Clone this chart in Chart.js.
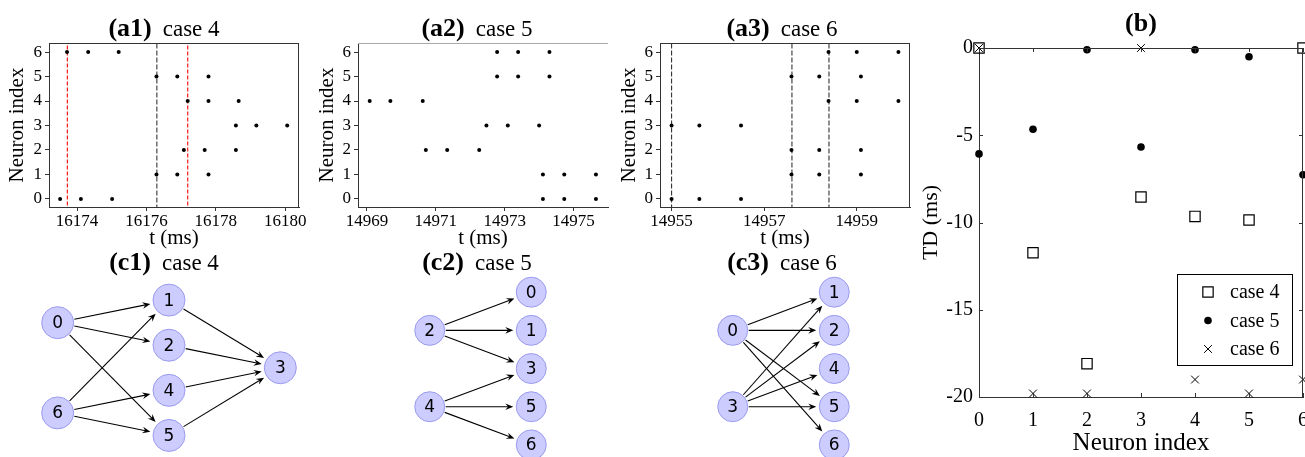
<!DOCTYPE html>
<html>
<head>
<meta charset="utf-8">
<script src="https://cdn.jsdelivr.net/npm/chart.js@4.4.0/dist/chart.umd.min.js"></script>
<style>
  body { margin: 0; width: 1305px; height: 457px; overflow: hidden; background: #fff; position: relative;
         font-family: "Liberation Serif", "Times New Roman", serif; }
  canvas { position: absolute; }
  .ttl { position: absolute; transform: translateX(-50%); white-space: nowrap; font-size: 23px; line-height: 26px; color: #000; }
  .ttl b { font-size: 26px; }
  .ttl span { margin-left: 11px; }
</style>
</head>
<body>
<canvas id="a1" width="310" height="251" style="left:0;top:0"></canvas>
<canvas id="a2" width="302" height="251" style="left:310px;top:0"></canvas>
<canvas id="a3" width="300" height="251" style="left:612px;top:0"></canvas>
<canvas id="b" width="405" height="458" style="left:915px;top:0"></canvas>
<canvas id="c1" width="334" height="203" style="left:2px;top:255px"></canvas>
<canvas id="c2" width="203" height="210" style="left:379px;top:254px"></canvas>
<canvas id="c3" width="203" height="210" style="left:682px;top:254px"></canvas>

<div class="ttl" style="left:164px;top:15px"><b>(a1)</b><span>case 4</span></div>
<div class="ttl" style="left:477px;top:15px"><b>(a2)</b><span>case 5</span></div>
<div class="ttl" style="left:782px;top:15px"><b>(a3)</b><span>case 6</span></div>
<div class="ttl" style="left:1141px;top:10px"><b>(b)</b></div>
<div class="ttl" style="left:164px;top:249px"><b>(c1)</b><span>case 4</span></div>
<div class="ttl" style="left:477px;top:249px"><b>(c2)</b><span>case 5</span></div>
<div class="ttl" style="left:782px;top:249px"><b>(c3)</b><span>case 6</span></div>

<script>
// spike times (ms) for neurons 0..6
const neuronIdx = [0, 1, 2, 3, 4, 5, 6];

const a1Spikes = [
    [16173.51, 16174.11, 16175.01],
    [16176.29, 16176.89, 16177.79],
    [16177.08, 16177.68, 16178.58],
    [16178.58, 16179.17, 16180.06],
    [16177.19, 16177.79, 16178.66],
    [16176.29, 16176.89, 16177.79],
    [16173.71, 16174.32, 16175.20]
];
const a1Ticks = [16174, 16176, 16178, 16180];
const a1RedLines = [16173.72, 16177.19];
const a1GrayLines = [16176.30];

const a2Spikes = [
    [14974.11, 14974.73, 14975.65],
    [14974.11, 14974.73, 14975.65],
    [14970.71, 14971.33, 14972.26],
    [14972.47, 14973.09, 14974.00],
    [14969.08, 14969.68, 14970.62],
    [14972.78, 14973.39, 14974.30],
    [14972.78, 14973.39, 14974.30]
];
const a2Ticks = [14969, 14971, 14973, 14975];

const a3Spikes = [
    [14955.00, 14955.60, 14956.50],
    [14957.59, 14958.19, 14959.09],
    [14957.59, 14958.19, 14959.09],
    [14955.00, 14955.60, 14956.50],
    [14958.39, 14959.00, 14959.90],
    [14957.59, 14958.19, 14959.09],
    [14958.39, 14959.00, 14959.90]
];
const a3Ticks = [14955, 14957, 14959];
const a3Lines = [14955.0, 14957.6, 14958.4];

// (b) TD per neuron index
const bNeurons = [0, 1, 2, 3, 4, 5, 6];
const tdCase4 = [0, -11.73, -18.09, -8.54, -9.65, -9.86, 0];
const tdCase5 = [-6.07, -4.66, -0.10, -5.67, -0.10, -0.50, -7.26];
const tdCase6 = [0, -19.8, -19.8, 0, -19.0, -19.8, -19.0];
const bYTicks = [0, -5, -10, -15, -20];

// (c) networks: node id, column, row, edges
const c1Nodes = [0, 6, 1, 2, 4, 5, 3];
const c1Cols = [0, 0, 1, 1, 1, 1, 2];
const c1Rows = [0.5, 2.5, 0, 1, 2, 3, 1.5];
const c1Edges = [[0, 1], [0, 2], [0, 5], [6, 1], [6, 4], [6, 5], [1, 3], [2, 3], [4, 3], [5, 3]];

const c2Nodes = [2, 4, 0, 1, 3, 5, 6];
const c2Cols = [0, 0, 1, 1, 1, 1, 1];
const c2Rows = [1, 3, 0, 1, 2, 3, 4];
const c2Edges = [[2, 0], [2, 1], [2, 3], [4, 3], [4, 5], [4, 6]];

const c3Nodes = [0, 3, 1, 2, 4, 5, 6];
const c3Cols = [0, 0, 1, 1, 1, 1, 1];
const c3Rows = [1, 3, 0, 1, 2, 3, 4];
const c3Edges = [[0, 1], [0, 2], [0, 5], [0, 6], [3, 1], [3, 2], [3, 4], [3, 5]];

const SERIF = '"Liberation Serif", "Times New Roman", serif';
Chart.defaults.font.family = SERIF;
Chart.defaults.color = '#000';

// top / right frame lines
const spinesPlugin = {
    id: 'spines',
    afterDraw(chart, args, opts) {
        const { ctx, chartArea: a } = chart;
        ctx.save();
        ctx.lineWidth = 1;
        if (opts.top) {
            ctx.strokeStyle = opts.top;
            ctx.beginPath(); ctx.moveTo(a.left, a.top + 0.5); ctx.lineTo(a.right, a.top + 0.5); ctx.stroke();
        }
        if (opts.right) {
            ctx.strokeStyle = opts.right;
            ctx.beginPath(); ctx.moveTo(a.right - 0.5, a.top); ctx.lineTo(a.right - 0.5, a.bottom); ctx.stroke();
        }
        ctx.restore();
    }
};

function raster(id, spikes, xmin, xmax, xticks, lines, axisW, padR, spines) {
    const dots = spikes.flatMap((ts, n) => ts.map(t => ({ x: t, y: neuronIdx[n] })));
    const datasets = [{
        data: dots, pointRadius: 2, pointBackgroundColor: '#000', pointBorderWidth: 0
    }];
    lines.forEach(l => datasets.push({
        type: 'line', data: [{ x: l.t, y: -1 }, { x: l.t, y: 7 }],
        borderColor: l.color, borderWidth: l.w, borderDash: l.dash, pointRadius: 0
    }));
    new Chart(document.getElementById(id), {
        type: 'scatter',
        data: { datasets },
        options: {
            responsive: false, animation: false, events: [],
            layout: { autoPadding: false, padding: { top: 43, right: padR, left: 0, bottom: 0 } },
            plugins: { legend: { display: false }, tooltip: { enabled: false }, spines },
            scales: {
                x: {
                    type: 'linear', min: xmin, max: xmax,
                    afterBuildTicks: s => { s.ticks = xticks.map(v => ({ value: v })); },
                    afterFit: s => { s.height = 44; },
                    grid: { drawOnChartArea: false, drawTicks: true, tickLength: 4, color: '#333' },
                    border: { color: '#333', width: 1 },
                    ticks: { font: { size: 17 }, padding: 0, maxRotation: 0, callback: v => String(v) },
                    title: { display: true, text: 't (ms)', font: { size: 21 }, padding: { top: 0, bottom: 0 } }
                },
                y: {
                    min: -0.33, max: 6.37,
                    afterBuildTicks: s => { s.ticks = neuronIdx.map(v => ({ value: v })); },
                    afterFit: s => { s.width = axisW; },
                    grid: { drawOnChartArea: false, drawTicks: true, tickLength: 4, color: '#333' },
                    border: { color: '#333', width: 1 },
                    ticks: { font: { size: 17 }, padding: 3, callback: v => String(v) },
                    title: { display: true, text: 'Neuron index', font: { size: 21 }, padding: { top: 5, bottom: 0 } }
                }
            }
        },
        plugins: [spinesPlugin]
    });
}

raster('a1', a1Spikes, 16173.19, 16180.40, a1Ticks,
    a1RedLines.map(t => ({ t, color: '#ff1a1a', dash: [4, 2], w: 1.2 }))
        .concat(a1GrayLines.map(t => ({ t, color: '#555', dash: [5, 2], w: 1.3 }))),
    49, 11, { top: '#333', right: '#333' });

raster('a2', a2Spikes, 14968.74, 14976.0, a2Ticks, [], 48, 4, { top: '#aaa' });

raster('a3', a3Spikes, 14954.75, 14960.15, a3Ticks,
    a3Lines.map(t => ({ t, color: '#333', dash: [5, 2], w: 1.1 })),
    48, 2, { top: '#333', right: '#333' });

// (b) inward ticks + box + legend
const boxPlugin = {
    id: 'box',
    afterDraw(chart) {
        const { ctx, chartArea: a, scales } = chart;
        ctx.save();
        ctx.strokeStyle = '#333';
        ctx.lineWidth = 1;
        ctx.beginPath();
        ctx.moveTo(a.left, a.top + 0.5); ctx.lineTo(a.right, a.top + 0.5);
        ctx.moveTo(a.right - 0.5, a.top); ctx.lineTo(a.right - 0.5, a.bottom);
        scales.x.ticks.forEach(t => {
            const x = Math.round(scales.x.getPixelForValue(t.value)) + 0.5;
            ctx.moveTo(x, a.bottom); ctx.lineTo(x, a.bottom - 4);
            ctx.moveTo(x, a.top); ctx.lineTo(x, a.top + 4);
        });
        scales.y.ticks.forEach(t => {
            const y = Math.round(scales.y.getPixelForValue(t.value)) + 0.5;
            ctx.moveTo(a.left, y); ctx.lineTo(a.left + 4, y);
            ctx.moveTo(a.right, y); ctx.lineTo(a.right - 4, y);
        });
        ctx.stroke();

        // legend box
        const w = 115, h = 91;
        const lx = a.right - 11 - w, ly = a.bottom - 32 - h;
        ctx.fillStyle = '#fff';
        ctx.fillRect(lx, ly, w, h);
        ctx.strokeStyle = '#000';
        ctx.strokeRect(lx + 0.5, ly + 0.5, w, h);
        ctx.font = '20px ' + SERIF;
        ctx.textBaseline = 'middle';
        chart.data.datasets.forEach((ds, i) => {
            const y = ly + 18 + i * 28.5;
            ctx.lineWidth = ds.pointBorderWidth;
            ctx.strokeStyle = '#000';
            ctx.fillStyle = ds.pointBackgroundColor;
            Chart.helpers.drawPoint(ctx, { pointStyle: ds.pointStyle, radius: ds.pointRadius, rotation: 0, borderWidth: ds.pointBorderWidth }, lx + 31, y);
            ctx.fillStyle = '#000';
            ctx.fillText(ds.label, lx + 53, y + 1);
        });
        ctx.restore();
    }
};

new Chart(document.getElementById('b'), {
    type: 'scatter',
    data: {
        datasets: [
            { label: 'case 4', data: bNeurons.map((n, i) => ({ x: n, y: tdCase4[i] })),
              pointStyle: 'rect', pointRadius: 7.3, pointBackgroundColor: 'rgba(255,255,255,0)', pointBorderColor: '#000', pointBorderWidth: 1.2, clip: false },
            { label: 'case 5', data: bNeurons.map((n, i) => ({ x: n, y: tdCase5[i] })),
              pointStyle: 'circle', pointRadius: 3.8, pointBackgroundColor: '#000', pointBorderColor: '#000', pointBorderWidth: 0, clip: false },
            { label: 'case 6', data: bNeurons.map((n, i) => ({ x: n, y: tdCase6[i] })),
              pointStyle: 'crossRot', pointRadius: 5.5, pointBackgroundColor: '#000', pointBorderColor: '#000', pointBorderWidth: 1, clip: false }
        ]
    },
    options: {
        responsive: false, animation: false, events: [],
        layout: { autoPadding: false, padding: { top: 48, right: 16, left: 0, bottom: 0 } },
        plugins: { legend: { display: false }, tooltip: { enabled: false } },
        scales: {
            x: {
                type: 'linear', min: 0, max: 6,
                afterBuildTicks: s => { s.ticks = bNeurons.map(v => ({ value: v })); },
                afterFit: s => { s.height = 61; },
                grid: { display: false, drawTicks: false },
                border: { color: '#333', width: 1 },
                ticks: { font: { size: 20 }, padding: 12, maxRotation: 0, callback: v => String(v) },
                title: { display: true, text: 'Neuron index', font: { size: 25 }, padding: { top: 0, bottom: 0 } }
            },
            y: {
                min: -20, max: 0,
                afterBuildTicks: s => { s.ticks = bYTicks.map(v => ({ value: v })); },
                afterFit: s => { s.width = 64; },
                grid: { display: false, drawTicks: false },
                border: { color: '#333', width: 1 },
                ticks: { font: { size: 20 }, padding: 6, callback: v => String(v) },
                title: { display: true, text: 'TD (ms)', font: { size: 22 }, padding: { top: 3, bottom: 0 } }
            }
        }
    },
    plugins: [boxPlugin]
});

// (c) network diagrams
const netPlugin = {
    id: 'net',
    afterDatasetsDraw(chart, args, opts) {
        const ctx = chart.ctx;
        const ds = chart.data.datasets[0];
        const meta = chart.getDatasetMeta(0);
        const pos = {};
        meta.data.forEach((el, i) => { pos[ds.data[i].id] = { x: el.x, y: el.y }; });
        const r = ds.pointRadius;
        ctx.save();
        ctx.strokeStyle = '#000';
        ctx.fillStyle = '#000';
        ctx.lineWidth = 1.1;
        opts.edges.forEach(([a, b]) => {
            const p = pos[a], q = pos[b];
            const dx = q.x - p.x, dy = q.y - p.y, L = Math.hypot(dx, dy);
            const ux = dx / L, uy = dy / L;
            const sx = p.x + ux * (r + 1), sy = p.y + uy * (r + 1);
            const ex = q.x - ux * (r + 3), ey = q.y - uy * (r + 3);
            ctx.beginPath();
            ctx.moveTo(sx, sy);
            ctx.lineTo(ex - ux * 5, ey - uy * 5);
            ctx.stroke();
            const hl = 8, hw = 3.3;
            ctx.beginPath();
            ctx.moveTo(ex, ey);
            ctx.lineTo(ex - ux * hl - uy * hw, ey - uy * hl + ux * hw);
            ctx.lineTo(ex - ux * hl * 0.65, ey - uy * hl * 0.65);
            ctx.lineTo(ex - ux * hl + uy * hw, ey - uy * hl - ux * hw);
            ctx.closePath();
            ctx.fill();
        });
        ctx.font = '17px "DejaVu Sans", sans-serif';
        ctx.textAlign = 'center';
        ctx.textBaseline = 'middle';
        meta.data.forEach((el, i) => ctx.fillText(String(ds.data[i].id), el.x, el.y + 1));
        ctx.restore();
    }
};

function network(id, nodes, cols, rows, edges, xr, yr, radius) {
    new Chart(document.getElementById(id), {
        type: 'scatter',
        data: {
            datasets: [{
                data: nodes.map((n, i) => ({ x: cols[i], y: rows[i], id: n })),
                pointRadius: radius, pointBackgroundColor: '#ccccff', pointBorderColor: '#9a9aee',
                pointBorderWidth: 1, clip: false
            }]
        },
        options: {
            responsive: false, animation: false, events: [],
            layout: { autoPadding: false, padding: 0 },
            plugins: { legend: { display: false }, tooltip: { enabled: false }, net: { edges } },
            scales: {
                x: { type: 'linear', display: false, min: xr[0], max: xr[1] },
                y: { display: false, reverse: true, min: yr[0], max: yr[1] }
            }
        },
        plugins: [netPlugin]
    });
}

network('c1', c1Nodes, c1Cols, c1Rows, c1Edges, [-0.5, 2.5], [-1, 3.5], 16);
network('c2', c2Nodes, c2Cols, c2Rows, c2Edges, [-0.5, 1.5], [-1, 4.5], 15);
network('c3', c3Nodes, c3Cols, c3Rows, c3Edges, [-0.5, 1.5], [-1, 4.5], 15);
</script>
</body>
</html>
